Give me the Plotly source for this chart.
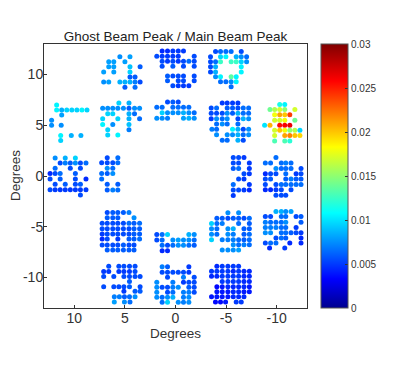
import plotly.graph_objects as go

# ghost/main peak ratio per feed, one (elevation, [az...], [ratio...]) per row, grouped by sub-array
top_a = [
    (11.75, [5.5, 4.5], [.0075, .008]),
    (11.25, [6.6, 6.1, 5.0], [.008, .008, .008]),
    (10.75, [6.6, 6.1, 4.5, 3.5], [.008, .008, .009, .006]),
    (10.25, [7.1, 6.1, 4.5], [.008, .008, .0095]),
    (9.75, [4.5, 4.0], [.006, .006]),
    (9.25, [7.1, 6.6, 5.5, 5.0, 4.5, 4.0, 3.5], [.0075, .008, .0085, .0085, .0085, .007, .0055]),
    (8.75, [5.0, 4.0], [.006, .0065]),
]
top_b = [
    (12.3, [1.32, .79, .26, -.27, -.79], [.0045, .0045, .005, .005, .005]),
    (11.8, [1.85, 1.32, .79, .26, -.27, -1.85], [.0055, .005, .005, .005, .005, .0055]),
    (11.3, [1.32, .79, .26, -.27, -.79, -1.32, -1.85], [.0055, .005, .0055, .005, .0055, .0065, .0055]),
    (10.8, [1.32, .26, -.79, -1.85], [.0055, .006, .0055, .0055]),
    (9.85, [.79, .26, -.27, -.79, -1.85], [.006, .0055, .0055, .0055, .0055]),
    (9.37, [.79, -.27, -.79, -1.85], [.006, .0055, .0055, .0055]),
    (8.88, [.26, -.27, -.79, -1.32], [.0055, .005, .005, .005]),
]
top_c = [
    (12.25, [-3.96, -4.45, -4.98, -5.5, -6.5], [.0055, .0065, .0065, .0065, .0055]),
    (11.75, [-3.46, -4.45, -4.98, -6.0, -6.5, -7.03], [.0055, .0095, .0105, .0085, .0075, .0065]),
    (11.25, [-3.46, -3.96, -4.45, -5.5, -6.0, -6.5, -7.03], [.0055, .0065, .0125, .0125, .0125, .0095, .0075]),
    (10.75, [-3.46, -3.96, -6.5], [.0055, .0085, .0105]),
    (10.25, [-3.46, -3.96, -6.5], [.0055, .0085, .0105]),
    (9.77, [-3.96, -4.45, -5.5, -6.0], [.0075, .0105, .0135, .0105]),
    (9.27, [-4.45, -4.98, -5.5, -6.0], [.0065, .0065, .0075, .0105]),
    (8.78, [-5.5], [.0065]),
]
upper_a = [
    (7.0, [11.75], [.0105]),
    (6.5, [11.75, 11.25, 10.75, 10.25, 9.75, 9.25, 8.75], [.0105, .0085, .0095, .0095, .0095, .0105, .0095]),
    (6.0, [11.25], [.008]),
    (5.5, [12.25], [.0075]),
    (5.0, [12.25, 11.3], [.0075, .0075]),
    (4.0, [11.35, 10.3, 9.35], [.0105, .0085, .0085]),
    (3.5, [11.35], [.0095]),
]
upper_b = [
    (7.2, [5.6, 4.6], [.0095, .0085]),
    (6.67, [7.2, 6.7, 6.2, 5.7, 5.15, 4.6, 4.05, 3.55], [.0075, .0075, .0075, .0075, .0075, .006, .0075, .0075]),
    (6.14, [6.7, 6.2, 4.6, 4.05], [.0095, .0095, .0085, .0065]),
    (5.64, [7.2, 5.7, 4.6, 3.55], [.0095, .0095, .0085, .0065]),
    (5.08, [7.2, 6.2, 4.6], [.0105, .0075, .009]),
    (4.55, [6.7, 4.6], [.0095, .007]),
    (4.03, [6.7, 5.7], [.0095, .0105]),
]
upper_c = [
    (7.3, [.79, .26, -.27], [.0055, .006, .0055]),
    (6.77, [1.85, 1.32, .26, -.27, -.79, -1.32], [.0065, .0065, .0065, .0065, .0065, .0065]),
    (6.24, [1.32, .79, .26, -.27, -.79, -1.32, -1.85], [.0095, .0075, .0075, .0075, .0085, .0075, .0065]),
    (5.68, [1.85, 1.32, .79, -.79, -1.32, -1.85], [.0075, .0075, .007, .008, .0085, .0075]),
]
upper_d = [
    (7.2, [-4.62, -5.11, -5.64, -6.17], [.005, .005, .005, .005]),
    (6.7, [-3.53, -4.06, -5.11, -5.64, -6.17, -6.7, -7.23], [.0055, .0065, .006, .006, .0055, .0065, .0065]),
    (6.17, [-3.53, -4.06, -4.62, -5.11, -5.64, -6.17, -6.7, -7.23], [.0055, .0055, .0055, .0075, .006, .0085, .0065, .0065]),
    (5.64, [-3.53, -4.06, -4.62, -5.11, -6.17, -6.7, -7.23], [.005, .0075, .0065, .0075, .0055, .0085, .0075]),
    (5.12, [-4.06, -4.62, -5.11, -6.17], [.0065, .0075, .0065, .0065]),
    (4.6, [-3.6, -4.06, -5.64, -6.17, -6.7, -7.23], [.007, .0065, .0105, .0085, .0055, .0075]),
    (4.06, [-4.06, -5.11, -5.64, -6.17, -6.7, -7.23], [.0075, .0075, .0075, .0085, .0065, .0075]),
    (3.53, [-4.62, -5.11, -6.17, -6.7], [.0065, .0065, .0085, .0055]),
]
upper_e = [
    (7.03, [-10.3, -10.8], [.0115, .0105]),
    (6.54, [-9.34, -9.8, -10.3, -10.8, -11.8], [.014, .016, .017, .015, .017]),
    (6.04, [-9.8, -10.3, -10.8, -11.3], [.018, .021, .02, .024]),
    (5.5, [-9.8, -10.3, -10.8, -11.8], [.017, .017, .018, .014]),
    (5.0, [-8.81, -9.34, -10.3, -10.8, -11.3], [.01, .0205, .0255, .026, .0265]),
    (4.5, [-9.8, -10.3, -10.8, -11.3, -11.8, -12.3], [.017, .02, .018, .015, .016, .0095]),
    (4.0, [-9.8, -10.8, -11.3, -11.8, -12.3], [.017, .021, .022, .02, .0195]),
    (3.44, [-9.8, -10.8, -11.3], [.013, .013, .012]),
]
mid_a = [
    (1.78, [11.9, 10.9, 9.9], [.0075, .0085, .0095]),
    (1.29, [11.4, 10.9, 10.4, 9.9, 9.4, 8.85], [.0055, .007, .006, .0075, .0055, .0065]),
    (.76, [11.9, 10.4, 9.4], [.0065, .0055, .0055]),
    (.24, [12.4, 11.9, 11.4, 9.9], [.0045, .0055, .0065, .006]),
    (-.3, [12.4, 11.4, 9.9, 8.85], [.0055, .006, .0055, .0045]),
    (-.82, [11.9, 10.9, 9.9, 9.4], [.0055, .006, .0055, .006]),
    (-1.35, [12.4, 11.9, 11.4, 10.9, 10.4, 9.9, 9.4, 8.85], [.0055, .005, .005, .005, .005, .005, .005, .005]),
    (-1.88, [9.4], [.0055]),
]
mid_b = [
    (1.8, [6.75, 5.7], [.0055, .0065]),
    (1.3, [7.3, 6.75, 6.2, 5.7], [.0055, .0055, .0055, .0065]),
    (.76, [6.75, 6.2], [.0075, .0065]),
    (.24, [7.3, 6.75, 6.2], [.0065, .006, .0075]),
    (-.3, [7.3], [.0065]),
    (-.82, [6.75, 5.7], [.006, .006]),
    (-1.38, [6.75, 6.2, 5.7], [.006, .007, .0065]),
]
mid_c = [
    (1.81, [-5.71, -6.24, -6.77], [.0055, .0055, .005]),
    (1.28, [-5.71, -6.24, -7.3], [.0055, .0055, .005]),
    (.75, [-5.71, -6.24, -7.3], [.006, .0065, .005]),
    (.23, [-6.77, -7.3], [.0055, .005]),
    (-.3, [-6.24, -6.77], [.0055, .005]),
    (-.83, [-5.71, -7.3], [.0065, .005]),
    (-1.39, [-5.71, -6.24, -6.77, -7.3], [.0055, .0055, .005, .0045]),
    (-1.92, [-5.71], [.005]),
]
mid_d = [
    (1.81, [-9.93], [.0065]),
    (1.28, [-8.88, -9.4, -10.46, -10.9, -11.42], [.0065, .0065, .0065, .007, .0065]),
    (.75, [-9.93, -10.46, -10.9, -11.42, -12.41], [.0075, .0065, .0065, .0065, .0055]),
    (.23, [-8.88, -9.4, -9.93, -10.9, -11.92, -12.41], [.0045, .0055, .0055, .0065, .005, .0055]),
    (-.3, [-8.88, -9.4, -10.9, -11.42, -11.92, -12.41], [.0055, .006, .006, .007, .006, .006]),
    (-.83, [-8.88, -9.93, -10.46, -10.9, -11.42, -11.92, -12.41], [.0055, .0055, .0065, .0065, .0065, .0065, .0065]),
    (-1.36, [-8.88, -9.4, -9.93, -10.46, -11.42], [.0045, .0045, .005, .0055, .0055]),
    (-1.89, [-9.93, -10.46, -10.9], [.0055, .0055, .0055]),
]
lower_a = [
    (-3.6, [6.75, 6.2, 5.7, 5.15, 4.6], [.0055, .006, .006, .006, .007]),
    (-4.1, [6.75, 6.2, 5.7, 4.1], [.006, .006, .006, .0075]),
    (-4.65, [7.25, 6.75, 6.2, 5.7, 5.15, 4.6, 4.1, 3.55], [.0055, .0055, .0055, .0055, .0055, .0065, .006, .0065]),
    (-5.2, [7.25, 6.75, 6.2, 5.7, 5.15, 4.6, 4.1, 3.55], [.0055, .0055, .0055, .0055, .0055, .0055, .006, .006]),
    (-5.7, [7.25, 6.75, 6.2, 5.7, 5.15, 4.6, 4.1, 3.55], [.005, .0055, .0055, .0055, .0055, .0055, .006, .006]),
    (-6.2, [7.25, 6.75, 5.7, 4.6, 4.1, 3.55], [.0045, .0055, .005, .006, .006, .0065]),
    (-6.8, [7.25, 6.75, 6.2, 5.7, 5.15, 4.6, 4.1], [.0055, .0055, .0055, .0055, .006, .0055, .0055]),
    (-7.3, [6.75, 6.2, 5.7, 5.15, 4.6, 4.1], [.006, .006, .006, .006, .006, .006]),
]
lower_b = [
    (-5.77, [1.85, 1.32, .79, -1.32, -1.85], [.0055, .0065, .0095, .0085, .0075]),
    (-6.3, [1.85, 1.32, .26, -.27, -.79, -1.32, -1.85], [.0055, .0065, .0075, .008, .0075, .0075, .0065]),
    (-6.83, [1.32, .79, .26, -.27, -.79, -1.32, -1.85], [.0065, .0055, .0065, .0075, .0075, .0065, .006]),
    (-7.36, [1.32, .79], [.0045, .0045]),
]
lower_c = [
    (-3.63, [-5.18, -6.24], [.0075, .0075]),
    (-4.16, [-4.09, -4.62, -5.18, -5.71, -6.24, -6.77, -7.3], [.006, .006, .0055, .006, .006, .0055, .0065]),
    (-4.69, [-3.56, -4.09, -4.62, -6.24, -7.3], [.0095, .0065, .007, .0065, .006]),
    (-5.2, [-3.56, -4.09, -5.18, -5.71, -6.77, -7.3], [.0075, .0065, .0075, .0085, .006, .006]),
    (-5.74, [-3.56, -4.09, -5.18, -5.71, -6.77, -7.3], [.0075, .0065, .0075, .007, .006, .0065]),
    (-6.27, [-3.56, -4.62, -5.18, -5.71, -6.24, -6.77, -7.3], [.0095, .007, .007, .007, .0065, .006, .0065]),
    (-6.77, [-5.71, -6.24, -6.77, -7.3], [.0075, .0065, .007, .0065]),
    (-7.3, [-4.62, -5.18, -5.71, -6.24], [.0075, .0075, .0075, .008]),
]
lower_d = [
    (-3.5, [-9.93, -10.46, -10.9, -11.42], [.0085, .0085, .0075, .008]),
    (-4.0, [-8.88, -9.4, -10.46, -10.9, -11.92, -12.41], [.0055, .0055, .0065, .0065, .0055, .006]),
    (-4.55, [-8.88, -9.4, -9.93, -10.46, -10.9, -12.41], [.007, .0065, .0065, .0065, .0075, .006]),
    (-5.08, [-8.88, -9.4, -9.93, -10.46, -10.9, -11.92], [.007, .007, .007, .0065, .0065, .005]),
    (-5.6, [-8.88, -9.4, -10.46, -10.9, -11.42, -11.92, -12.41], [.0075, .0075, .0065, .0065, .006, .0055, .005]),
    (-6.1, [-9.93, -10.46, -10.9, -12.41], [.0055, .0065, .006, .0045]),
    (-6.6, [-8.88, -9.4, -9.93, -11.3, -12.41], [.0055, .0065, .0065, .0045, .0045]),
    (-7.1, [-9.3, -10.8], [.0045, .005]),
]
bottom_a = [
    (-8.9, [6.6, 5.6, 5.1, 4.55, 4.0], [.0055, .0055, .0055, .0055, .0055]),
    (-9.4, [7.1, 6.6, 5.6, 5.1, 4.55, 4.0], [.005, .005, .005, .005, .005, .0055]),
    (-9.9, [7.1, 6.1, 5.1, 4.55, 4.0, 3.5], [.0055, .0055, .0055, .0055, .0055, .0055]),
    (-10.4, [4.55], [.006]),
    (-10.9, [7.1, 6.1, 5.6, 5.1, 4.55, 3.5], [.0055, .0055, .0055, .0055, .006, .0055]),
    (-11.35, [5.1, 4.0, 3.5], [.005, .006, .006]),
    (-11.9, [6.05, 5.55, 5.05, 4.55, 4.0], [.007, .007, .006, .0065, .0075]),
    (-12.4, [6.05, 5.05, 4.5], [.008, .0075, .0065]),
]
bottom_b = [
    (-8.94, [1.32, .79, -1.32], [.007, .006, .005]),
    (-9.47, [1.32, .79, .26, -.27, -.79, -1.32], [.0055, .0055, .0055, .0055, .0055, .005]),
    (-9.97, [.79, -.79, -1.85], [.0055, .007, .0055]),
    (-10.46, [1.85, .26, -.79, -1.32, -1.85], [.0075, .007, .005, .0055, .0055]),
    (-10.96, [1.85, 1.32, .79, .26, -.27, -1.32, -1.85], [.0075, .0055, .0055, .007, .0075, .006, .0055]),
    (-11.45, [1.85, .79, .26, -.79, -1.32, -1.85], [.0075, .0055, .0065, .007, .007, .0055]),
    (-11.95, [1.85, 1.32, .79, .26, -.79, -1.32], [.0075, .0065, .0075, .0085, .007, .0075]),
    (-12.44, [1.32, .79, -.27, -.79, -1.32], [.0065, .0095, .0075, .007, .0075]),
]
bottom_c = [
    (-8.88, [-4.09, -4.62, -5.18, -5.71, -6.24], [.0045, .005, .005, .005, .005]),
    (-9.37, [-3.56, -4.09, -4.62, -5.18, -5.71, -6.24, -6.77, -7.3], [.005, .005, .005, .005, .0045, .005, .0045, .0045]),
    (-9.87, [-3.56, -4.09, -4.62, -5.18, -5.71, -6.24, -6.77, -7.3], [.0045, .0045, .005, .005, .005, .005, .0045, .0045]),
    (-10.4, [-4.62, -5.18, -5.71, -6.24, -6.77, -7.3], [.005, .005, .005, .005, .0045, .0045]),
    (-10.9, [-4.09, -4.62, -5.18, -5.71, -6.24, -6.77, -7.3], [.0035, .004, .0045, .0045, .0045, .0045, .004]),
    (-11.4, [-4.09, -4.62, -5.18, -5.71, -6.24, -6.77, -7.3], [.004, .004, .004, .0045, .0045, .004, .004]),
    (-11.9, [-3.56, -4.09, -4.62, -5.18, -5.71, -6.24, -6.77], [.004, .004, .004, .004, .0045, .0045, .0045]),
    (-12.4, [-3.95, -4.45, -4.95, -6.0, -6.5], [.0035, .0035, .004, .005, .005]),
]
blocks = [top_a, top_b, top_c, upper_a, upper_b, upper_c, upper_d, upper_e, mid_a, mid_b, mid_c,
          mid_d, lower_a, lower_b, lower_c, lower_d, bottom_a, bottom_b, bottom_c]

axis_ticks = [10, 5, 0, -5, -10]
axis_labels = ['10', '5', '0', '-5', '-10']
cbar_ticks = [0, 0.005, 0.01, 0.015, 0.02, 0.025, 0.03]
cbar_labels = ['0', '0.005', '0.01', '0.015', '0.02', '0.025', '0.03']

# matlab jet
jet = [[0, 'rgb(0,0,143)'], [0.11, 'rgb(0,0,255)'], [0.36, 'rgb(0,255,255)'],
       [0.61, 'rgb(255,255,0)'], [0.86, 'rgb(255,0,0)'], [1, 'rgb(128,0,0)']]

az, el, ratio = [], [], []
for block in blocks:
    for row_el, row_az, row_val in block:
        az += row_az
        el += [row_el] * len(row_az)
        ratio += row_val

fig = go.Figure(go.Scatter(
    x=az, y=el, mode='markers',
    marker=dict(
        size=5, color=ratio, cmin=0, cmax=0.03, colorscale=jet, line_width=0,
        colorbar=dict(
            x=1.053, xanchor='left', y=0, yanchor='bottom', len=1, thickness=27,
            xpad=0, ypad=0, tickvals=cbar_ticks, ticktext=cbar_labels, ticks='inside',
            ticklen=3, tickcolor='#333', tickfont=dict(size=10, color='#333'),
            outlinecolor='#555', outlinewidth=1,
        ),
    ),
))

axis_style = dict(
    tickvals=axis_ticks, ticktext=axis_labels, ticks='inside', ticklen=3, tickcolor='#333',
    showline=True, linecolor='#333', linewidth=1, mirror=True, showgrid=False, zeroline=False,
    tickfont=dict(size=14, color='#333'), automargin=False, ticklabelstandoff=-3,
)

# the page puts the figure 8px in from the window corner, margins allow for that
fig.update_layout(
    width=415, height=366, autosize=False,
    margin=dict(l=36, r=116, t=36, b=66),
    paper_bgcolor='white', plot_bgcolor='white',
    font=dict(family='Liberation Sans'),
    showlegend=False,
    title=dict(text='Ghost Beam Peak / Main Beam Peak', xref='paper', x=0.5, xanchor='center',
               y=1 - 28 / 366, yanchor='middle', font=dict(size=13.5, color='#222'), automargin=False),
    xaxis=dict(axis_style, range=[13, -13]),
    yaxis=dict(axis_style, range=[-13, 13]),
    annotations=[
        dict(text='Degrees', xref='paper', yref='paper', x=0.5, y=0, yshift=-25, yanchor='middle',
             showarrow=False, font=dict(size=13.5, color='#333')),
        dict(text='Degrees', xref='paper', yref='paper', x=0, y=0.5, xshift=-29, xanchor='center',
             textangle=-90, showarrow=False, font=dict(size=13.5, color='#333')),
    ],
)
fig.write_html("out.html")
